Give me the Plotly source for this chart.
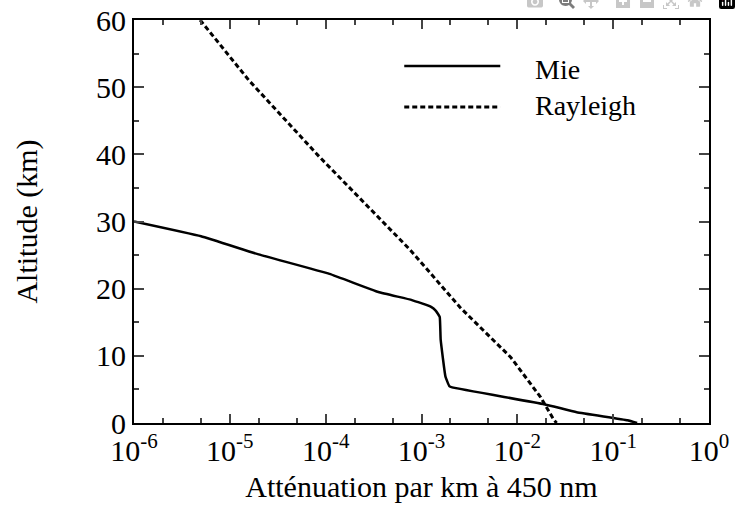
import plotly.graph_objects as go

# Mie profile: attenuation (per km) vs altitude (km)
mie_att = [1e-6, 10**-5.3, 10**-4.7, 10**-3.96, 10**-3.45, 10**-3.1, 10**-2.90, 10**-2.85,
           10**-2.81, 10**-2.80, 10**-2.75, 10**-2.71, 10**-2.68, 10**-1.72, 10**-1.38, 10**-0.85, 10**-0.75]
mie_alt = [30.0, 27.8, 25.1, 22.2, 19.5, 18.3, 17.3, 16.7, 15.8, 12.4, 6.9, 5.5, 5.3, 2.8, 1.6, 0.4, 0.0]

# Rayleigh profile
ray_att = [10**-5.31, 10**-4.80, 10**-4.07, 10**-3.12, 10**-2.59, 10**-2.07, 10**-1.76, 10**-1.62, 10**-1.59]
ray_alt = [60.0, 51.0, 39.7, 25.8, 17.1, 9.8, 3.9, 0.5, 0.0]

x_tickvals = [1e-6, 1e-5, 1e-4, 1e-3, 1e-2, 1e-1, 1e0]
x_ticktext = ["10<sup>-6</sup>", "10<sup>-5</sup>", "10<sup>-4</sup>", "10<sup>-3</sup>",
              "10<sup>-2</sup>", "10<sup>-1</sup>", "10<sup>0</sup>"]
y_tickvals = [0, 10, 20, 30, 40, 50, 60]

font = "Liberation Serif"

fig = go.Figure()
fig.add_trace(go.Scatter(x=mie_att, y=mie_alt, mode="lines", name="Mie",
                         line=dict(color="black", width=2.5, shape="spline", smoothing=0.3),
                         showlegend=False))
fig.add_trace(go.Scatter(x=ray_att, y=ray_alt, mode="lines", name="Rayleigh",
                         line=dict(color="black", width=3, dash="5px,3px"), showlegend=False))

# manual legend
fig.add_shape(type="line", xref="paper", yref="paper", x0=0.47, x1=0.637, y0=0.886, y1=0.886,
              line=dict(color="black", width=2.5))
fig.add_shape(type="line", xref="paper", yref="paper", x0=0.47, x1=0.637, y0=0.784, y1=0.784,
              line=dict(color="black", width=3, dash="5px,3px"))
fig.add_annotation(xref="paper", yref="paper", x=0.694, y=0.876, text="Mie", showarrow=False,
                   xanchor="left", yanchor="middle", font=dict(family=font, size=28, color="black"))
fig.add_annotation(xref="paper", yref="paper", x=0.694, y=0.789, text="Rayleigh", showarrow=False,
                   xanchor="left", yanchor="middle", font=dict(family=font, size=28, color="black"))

fig.update_layout(
    width=741, height=530,
    margin=dict(l=134, r=29, t=32, b=95),
    plot_bgcolor="white", paper_bgcolor="white",
    font=dict(family=font, size=30, color="black"),
    xaxis=dict(type="log", range=[-6, 0], tickvals=x_tickvals, ticktext=x_ticktext,
               ticks="inside", ticklen=9, tickwidth=2, mirror="allticks",
               showline=True, linecolor="black", linewidth=2, showgrid=False, zeroline=False,
               minor=dict(ticks="inside", ticklen=5, tickwidth=1.5, showgrid=False),
               title=dict(text="Atténuation par km à 450 nm", font=dict(size=30), standoff=10)),
    yaxis=dict(range=[0, 60], tickvals=y_tickvals, ticks="inside", ticklen=10, tickwidth=2,
               mirror="allticks", showline=True, linecolor="black", linewidth=2,
               ticklabeloverflow="allow",
               showgrid=False, zeroline=False,
               minor=dict(ticks="inside", ticklen=5, tickwidth=1.5, dtick=5, showgrid=False),
               title=dict(text="Altitude (km)", font=dict(size=30), standoff=50)),
)

fig.write_html(
    "out.html",
    post_script="document.body.style.margin='0px';"
                "var gd=document.getElementById('{plot_id}');"
                "gd.style.marginTop='-12px';",
)
